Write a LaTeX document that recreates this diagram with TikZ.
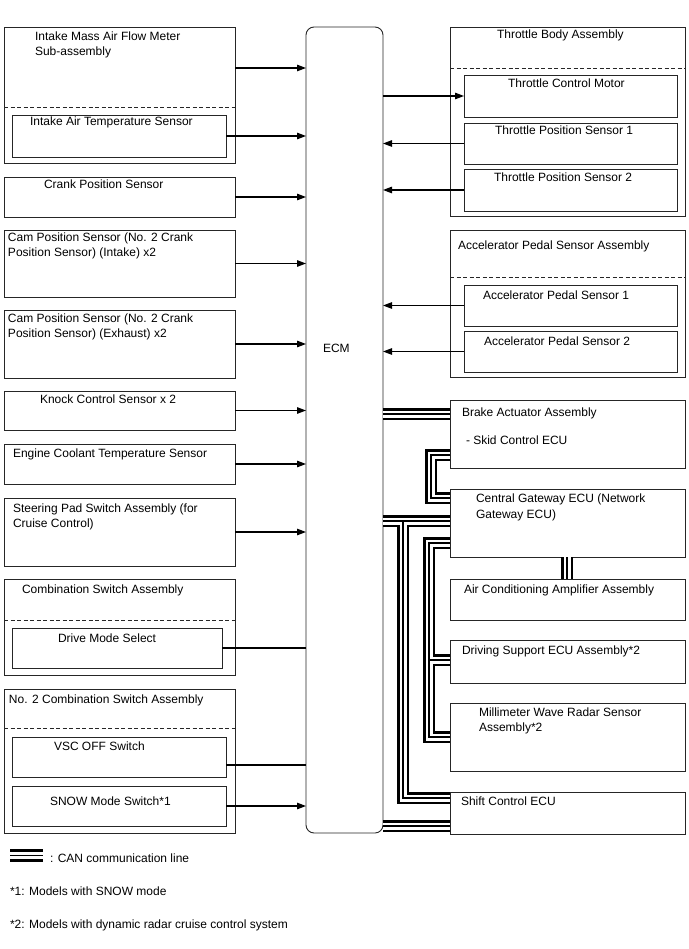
\documentclass[tikz,border=0pt]{standalone}
\usepackage{fontspec}
\setmainfont{Liberation Sans}
\usetikzlibrary{arrows.meta,fit}
\tikzset{
  box/.style={draw=black!85,line width=0.9pt,inner sep=0pt,outer sep=0pt},
  ecmbox/.style={box,rounded corners=8pt},
  lbl/.style={anchor=base west,inner sep=0pt,outer sep=0pt,font=\fontsize{12}{14}\selectfont},
  arr/.style={line width=1.2pt,-{Triangle[length=9pt,width=6.5pt]}},
  plainln/.style={line width=1.2pt},
  dsh/.style={draw=black!85,line width=0.9pt,dash pattern=on 4pt off 2.5pt},
  canA/.style={line width=12.5pt,black,line join=miter,line cap=butt},
  canB/.style={line width=7pt,white,line join=miter,line cap=butt},
  canC/.style={line width=1.8pt,black,line join=miter,line cap=butt},
}
\newcommand\cannet[1]{%
  \draw[#1] (ecm.east |- c1) -- (brk.west |- c1);
  \draw[#1] (brk.west |- cA) -- (cA) -- (cB) -- (gw.west |- cB);
  \draw[#1] (ecm.east |- g1) -- (gw.west |- g1);
  \draw[#1] (g1) -- (aA) -- (shift.west |- aA);
  \draw[#1] (gw.west |- b1) -- (b1) -- (b3) -- (mmw.west |- b3);
  \draw[#1] (b2) -- (dsu.west |- b2);
  \draw[#1] (gw.south -| v1) -- (ac.north -| v1);
  \draw[#1] (ecm.east |- s2) -- (shift.west |- s2);
  \draw[#1] (leg1) -- (leg2);
}
\begin{document}
\begin{tikzpicture}[x=1pt,y=-1pt]
\useasboundingbox (0,0) rectangle (688,949);

% ---- boxes, left column
\node[box,fit={(4,27) (235,163)}] (imaf) {};
\node[box,fit={(12,115) (226,157)}] (iat) {};
\node[box,fit={(4,177) (235,217)}] (crank) {};
\node[box,fit={(4,230) (235,297)}] (cam1) {};
\node[box,fit={(4,310) (235,378)}] (cam2) {};
\node[box,fit={(4,391) (235,430)}] (knock) {};
\node[box,fit={(4,444) (235,484)}] (ect) {};
\node[box,fit={(4,498) (235,566)}] (spsw) {};
\node[box,fit={(4,579) (235,675)}] (comb) {};
\node[box,fit={(12,628) (222,668)}] (dms) {};
\node[box,fit={(4,689) (235,833)}] (comb2) {};
\node[box,fit={(12,737) (226,777)}] (vsc) {};
\node[box,fit={(12,786) (226,826)}] (snow) {};
% ECM
\node[ecmbox,fit={(306,27) (383,833)}] (ecm) {};
% ---- boxes, right column
\node[box,fit={(450,27) (685,216)}] (tba) {};
\node[box,fit={(464,75) (677,117)}] (tcm) {};
\node[box,fit={(464,123) (677,164)}] (tps1) {};
\node[box,fit={(464,169) (677,211)}] (tps2) {};
\node[box,fit={(450,230) (685,377)}] (aps) {};
\node[box,fit={(464,285) (677,326)}] (aps1) {};
\node[box,fit={(464,331) (677,372)}] (aps2) {};
\node[box,fit={(450,400) (685,468)}] (brk) {};
\node[box,fit={(450,489) (685,557)}] (gw) {};
\node[box,fit={(450,579) (685,620)}] (ac) {};
\node[box,fit={(450,640) (685,683)}] (dsu) {};
\node[box,fit={(450,703) (685,771)}] (mmw) {};
\node[box,fit={(450,792) (685,834)}] (shift) {};

% ---- CAN coordinates
\coordinate (c1) at (0,414);
\coordinate (cA) at (431,455);
\coordinate (cB) at (431,498);
\coordinate (g1) at (403,521);
\coordinate (aA) at (403,798);
\coordinate (b1) at (429,543);
\coordinate (b2) at (429,660);
\coordinate (b3) at (429,737);
\coordinate (v1) at (567,0);
\coordinate (s2) at (0,826);
\coordinate (leg1) at (10,855.5);
\coordinate (leg2) at (43,855.5);
\cannet{canA}
\cannet{canB}
\cannet{canC}

% ---- dashed separators
\coordinate (d1) at (0,107);
\coordinate (d2) at (0,68);
\coordinate (d3) at (0,277);
\coordinate (d4) at (0,620);
\coordinate (d5) at (0,728);
\draw[dsh] (imaf.west |- d1) -- (imaf.east |- d1);
\draw[dsh] (tba.west |- d2) -- (tba.east |- d2);
\draw[dsh] (aps.west |- d3) -- (aps.east |- d3);
\draw[dsh] (comb.west |- d4) -- (comb.east |- d4);
\draw[dsh] (comb2.west |- d5) -- (comb2.east |- d5);

% ---- signal connectors
\coordinate (y1) at (0,68);
\coordinate (y2) at (0,765);
\draw[arr] (imaf.east |- y1) -- (ecm.west |- y1);
\draw[arr] (iat.east) -- (ecm.west |- iat.east);
\draw[arr] (crank.east) -- (ecm.west |- crank.east);
\draw[arr] (cam1.east) -- (ecm.west |- cam1.east);
\draw[arr] (cam2.east) -- (ecm.west |- cam2.east);
\draw[arr] (knock.east) -- (ecm.west |- knock.east);
\draw[arr] (ect.east) -- (ecm.west |- ect.east);
\draw[arr] (spsw.east) -- (ecm.west |- spsw.east);
\draw[plainln] (dms.east) -- (ecm.west |- dms.east);
\draw[plainln] (vsc.east |- y2) -- (ecm.west |- y2);
\draw[arr] (snow.east) -- (ecm.west |- snow.east);
\draw[arr] (ecm.east |- tcm.west) -- (tcm.west);
\draw[arr] (tps1.west) -- (ecm.east |- tps1.west);
\draw[arr] (tps2.west) -- (ecm.east |- tps2.west);
\draw[arr] (aps1.west) -- (ecm.east |- aps1.west);
\draw[arr] (aps2.west) -- (ecm.east |- aps2.west);

% ---- labels
\node[lbl] (t1) at (35,41) {Intake Mass Air Flow Meter};
\node[lbl] (t1b) at (35,55.5) {Sub-assembly};
\node[lbl] (t2) at (30,126) {Intake Air Temperature Sensor};
\node[lbl] (t3) at (44,189) {Crank Position Sensor};
\node[lbl] (t4) at (8,242) {Cam Position Sensor (No. 2 Crank};
\node[lbl] (t4b) at (8,257) {Position Sensor) (Intake) x2};
\node[lbl] (t5) at (8,322) {Cam Position Sensor (No. 2 Crank};
\node[lbl] (t5b) at (8,337) {Position Sensor) (Exhaust) x2};
\node[lbl] (t6) at (40,403) {Knock Control Sensor x 2};
\node[lbl] (t7) at (13,457) {Engine Coolant Temperature Sensor};
\node[lbl] (t8) at (13,512) {Steering Pad Switch Assembly (for};
\node[lbl] (t8b) at (13,527) {Cruise Control)};
\node[lbl] (t9) at (22,593) {Combination Switch Assembly};
\node[lbl] (t10) at (58,642) {Drive Mode Select};
\node[lbl] (t11) at (9,703) {No. 2 Combination Switch Assembly};
\node[lbl] (t12) at (54,750) {VSC OFF Switch};
\node[lbl] (t13) at (50,805) {SNOW Mode Switch*1};
\node[lbl] (tecm) at (323,352) {ECM};
\node[lbl] (r1) at (497,38.5) {Throttle Body Assembly};
\node[lbl] (r2) at (508,88) {Throttle Control Motor};
\node[lbl] (r3) at (495,135) {Throttle Position Sensor 1};
\node[lbl] (r4) at (494,182) {Throttle Position Sensor 2};
\node[lbl] (r5) at (458,250) {Accelerator Pedal Sensor Assembly};
\node[lbl] (r6) at (483,299) {Accelerator Pedal Sensor 1};
\node[lbl] (r7) at (484,345) {Accelerator Pedal Sensor 2};
\node[lbl] (r8) at (462,416) {Brake Actuator Assembly};
\node[lbl] (r8b) at (466,444) {- Skid Control ECU};
\node[lbl] (r9) at (476,502) {Central Gateway ECU (Network};
\node[lbl] (r9b) at (476,518) {Gateway ECU)};
\node[lbl] (r10) at (464,593) {Air Conditioning Amplifier Assembly};
\node[lbl] (r11) at (462,654) {Driving Support ECU Assembly*2};
\node[lbl] (r12) at (479,716) {Millimeter Wave Radar Sensor};
\node[lbl] (r12b) at (479,731) {Assembly*2};
\node[lbl] (r13) at (461,805) {Shift Control ECU};
% ---- legend
\node[lbl] (n0) at (50,862) {: CAN communication line};
\node[lbl] (n1) at (10,895) {*1: Models with SNOW mode};
\node[lbl] (n2) at (10,928) {*2: Models with dynamic radar cruise control system};
\end{tikzpicture}
\end{document}
